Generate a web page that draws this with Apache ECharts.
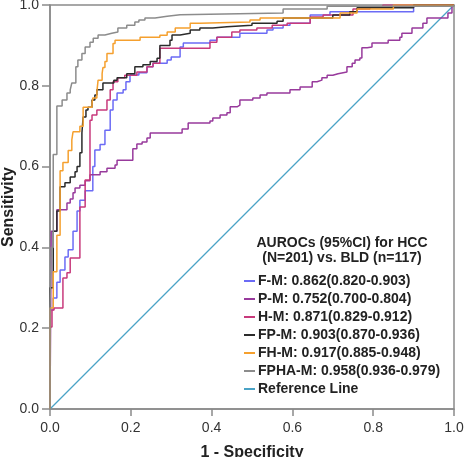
<!DOCTYPE html>
<html>
<head>
<meta charset="utf-8">
<script src="https://cdn.jsdelivr.net/npm/echarts@6/dist/echarts.min.js"></script>
<style>
  html, body { margin: 0; padding: 0; background: #fff; }
  #chart { width: 471px; height: 457px; }
</style>
</head>
<body>
<div id="chart"></div>
<script>
// ROC curves, step vertices (x = 1 - specificity, y = sensitivity)
var fmX = [0, 0, 0.008, 0.017, 0.025, 0.037, 0.045, 0.057, 0.067, 0.074, 0.087, 0.106, 0.111, 0.124, 0.136, 0.149, 0.156, 0.166, 0.181, 0.188, 0.198, 0.22, 0.24, 0.255, 0.29, 0.3, 0.322, 0.33, 0.396, 0.413, 0.47, 0.537, 0.552, 0.577, 0.594, 0.644, 0.693, 0.9, 1];
var fmY = [0, 0.245, 0.275, 0.314, 0.344, 0.376, 0.394, 0.44, 0.49, 0.517, 0.54, 0.6, 0.641, 0.655, 0.69, 0.74, 0.765, 0.782, 0.79, 0.81, 0.827, 0.832, 0.847, 0.856, 0.864, 0.871, 0.896, 0.906, 0.913, 0.92, 0.93, 0.938, 0.943, 0.95, 0.955, 0.975, 0.983, 1, 1];

var pmX = [0, 0.003, 0.017, 0.042, 0.05, 0.057, 0.062, 0.074, 0.087, 0.099, 0.124, 0.141, 0.161, 0.166, 0.205, 0.215, 0.228, 0.24, 0.248, 0.327, 0.342, 0.396, 0.403, 0.421, 0.438, 0.446, 0.463, 0.47, 0.502, 0.52, 0.537, 0.594, 0.619, 0.649, 0.661, 0.673, 0.686, 0.7, 0.713, 0.735, 0.748, 0.755, 0.767, 0.772, 0.785, 0.797, 0.837, 0.866, 0.871, 0.896, 0.923, 0.933, 0.985, 0.995, 1];
var pmY = [0, 0.44, 0.493, 0.51, 0.52, 0.535, 0.547, 0.554, 0.565, 0.58, 0.587, 0.596, 0.604, 0.616, 0.644, 0.656, 0.661, 0.671, 0.683, 0.693, 0.708, 0.713, 0.72, 0.728, 0.733, 0.748, 0.752, 0.765, 0.77, 0.777, 0.782, 0.79, 0.797, 0.81, 0.814, 0.82, 0.826, 0.83, 0.834, 0.847, 0.856, 0.864, 0.869, 0.894, 0.896, 0.906, 0.913, 0.92, 0.93, 0.943, 0.955, 0.968, 0.98, 1, 1];

var hmX = [0, 0, 0.005, 0.01, 0.032, 0.042, 0.05, 0.074, 0.087, 0.099, 0.104, 0.116, 0.141, 0.149, 0.156, 0.168, 0.185, 0.215, 0.24, 0.255, 0.272, 0.396, 0.413, 0.45, 0.47, 0.512, 0.55, 0.587, 0.644, 0.676, 0.75, 0.792, 0.824, 1];
var hmY = [0, 0.203, 0.245, 0.25, 0.324, 0.337, 0.374, 0.5, 0.567, 0.715, 0.728, 0.74, 0.765, 0.79, 0.81, 0.82, 0.826, 0.834, 0.847, 0.856, 0.893, 0.908, 0.92, 0.933, 0.938, 0.943, 0.95, 0.955, 0.97, 0.975, 0.99, 0.995, 1, 1];

var fpmX = [0, 0, 0.008, 0.017, 0.025, 0.037, 0.05, 0.062, 0.067, 0.074, 0.079, 0.082, 0.089, 0.094, 0.104, 0.111, 0.116, 0.131, 0.158, 0.166, 0.19, 0.21, 0.23, 0.248, 0.265, 0.272, 0.297, 0.302, 0.322, 0.347, 0.371, 0.403, 0.438, 0.5, 0.562, 0.577, 0.7, 0.742, 0.76, 0.9, 1];
var fpmY = [0, 0.3, 0.44, 0.49, 0.55, 0.56, 0.574, 0.587, 0.6, 0.634, 0.683, 0.723, 0.74, 0.747, 0.765, 0.777, 0.79, 0.807, 0.814, 0.82, 0.83, 0.847, 0.852, 0.86, 0.868, 0.9, 0.913, 0.926, 0.93, 0.938, 0.943, 0.946, 0.95, 0.955, 0.96, 0.968, 0.975, 0.983, 0.993, 1, 1];

var fhmX = [0, 0, 0.008, 0.017, 0.025, 0.032, 0.045, 0.054, 0.057, 0.074, 0.082, 0.104, 0.106, 0.116, 0.119, 0.129, 0.131, 0.136, 0.141, 0.156, 0.161, 0.223, 0.272, 0.29, 0.31, 0.347, 0.371, 0.495, 0.52, 0.718, 0.76, 0.85, 1];
var fhmY = [0, 0.25, 0.34, 0.43, 0.59, 0.61, 0.64, 0.666, 0.686, 0.7, 0.747, 0.757, 0.77, 0.785, 0.814, 0.83, 0.845, 0.86, 0.88, 0.905, 0.913, 0.92, 0.925, 0.933, 0.943, 0.955, 0.958, 0.963, 0.968, 0.98, 0.99, 1, 1];

var fphaX = [0, 0, 0.003, 0.008, 0.017, 0.03, 0.042, 0.05, 0.054, 0.064, 0.069, 0.079, 0.087, 0.099, 0.107, 0.119, 0.136, 0.153, 0.168, 0.19, 0.21, 0.22, 0.235, 0.26, 0.29, 0.322, 0.577, 0.686, 1];
var fphaY = [0, 0.25, 0.4, 0.63, 0.75, 0.765, 0.782, 0.79, 0.807, 0.847, 0.864, 0.88, 0.896, 0.908, 0.918, 0.926, 0.93, 0.933, 0.943, 0.95, 0.958, 0.963, 0.968, 0.972, 0.976, 0.98, 0.99, 0.997, 1];

var refX = [0, 1];
var refY = [0, 1];

var names = [
    'F-M: 0.862(0.820-0.903)',
    'P-M: 0.752(0.700-0.804)',
    'H-M: 0.871(0.829-0.912)',
    'FP-M: 0.903(0.870-0.936)',
    'FH-M: 0.917(0.885-0.948)',
    'FPHA-M: 0.958(0.936-0.979)',
    'Reference Line'
];
var colors = ['#6b6bf5', '#983a9c', '#c83a7c', '#2b2b2b', '#f5a02e', '#8c8c8c', '#4aa3c6'];

function pairs(xs, ys) {
    return xs.map(function (x, i) { return [x, ys[i]]; });
}

var curves = [[fmX, fmY], [pmX, pmY], [hmX, hmY], [fpmX, fpmY], [fhmX, fhmY], [fphaX, fphaY]];

var series = curves.map(function (c, i) {
    return {
        name: names[i],
        type: 'line',
        step: 'end',
        symbol: 'none',
        silent: true,
        lineStyle: { width: 1.5, color: colors[i] },
        itemStyle: { color: colors[i] },
        data: pairs(c[0], c[1])
    };
});
series.unshift({
    name: names[6],
    type: 'line',
    symbol: 'none',
    silent: true,
    lineStyle: { width: 1.3, color: colors[6] },
    itemStyle: { color: colors[6] },
    data: pairs(refX, refY)
});

var font = 'Liberation Sans, Arial, sans-serif';

var chart = echarts.init(document.getElementById('chart'));
chart.setOption({
    animation: false,
    textStyle: { fontFamily: font },
    grid: {
        left: 50, right: 17, top: 5, bottom: 48,
        outerBoundsMode: 'none',
        containLabel: false,
        show: true, borderColor: '#8a8a8a', borderWidth: 1.5
    },
    graphic: [{
        type: 'text',
        x: 342, y: 236,
        style: {
            text: 'AUROCs (95%CI) for HCC\n(N=201) vs. BLD (n=117)',
            align: 'center',
            textAlign: 'center',
            font: 'bold 14px ' + font,
            fill: '#222',
            lineHeight: 15
        }
    }],
    legend: {
        orient: 'vertical',
        left: 239, top: 269,
        icon: 'rect',
        itemWidth: 11, itemHeight: 2, itemGap: 4,
        textStyle: { fontSize: 14, fontWeight: 'bold', color: '#222', fontFamily: font, padding: [0, 0, 0, -2] },
        data: names
    },
    xAxis: {
        type: 'value', min: 0, max: 1, interval: 0.2,
        name: '1 - Specificity', nameLocation: 'middle', nameGap: 36,
        nameTextStyle: { fontSize: 16, fontWeight: 'bold', color: '#222' },
        axisLine: { lineStyle: { color: '#8a8a8a', width: 1.5 } },
        axisTick: { length: 7, lineStyle: { color: '#8a8a8a', width: 1.5 } },
        axisLabel: { fontSize: 14, color: '#333', margin: 12, formatter: function (v) { return v.toFixed(1); } },
        splitLine: { show: false }
    },
    yAxis: {
        type: 'value', min: 0, max: 1, interval: 0.2,
        name: 'Sensitivity', nameLocation: 'middle', nameGap: 33,
        nameMoveOverlap: false,
        nameTextStyle: { fontSize: 16, fontWeight: 'bold', color: '#222' },
        axisLine: { show: true, lineStyle: { color: '#8a8a8a', width: 1.5 } },
        axisTick: { show: true, length: 8, lineStyle: { color: '#8a8a8a', width: 1.5 } },
        axisLabel: { fontSize: 14, color: '#333', margin: 11, formatter: function (v) { return v.toFixed(1); } },
        splitLine: { show: false }
    },
    series: series
});
</script>
</body>
</html>
